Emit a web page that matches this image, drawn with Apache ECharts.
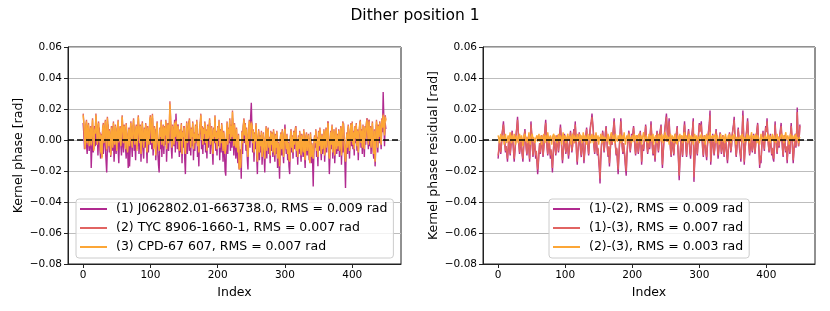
<!DOCTYPE html>
<html><head><meta charset="utf-8">
<script src="https://cdn.jsdelivr.net/npm/echarts@6/dist/echarts.min.js"></script>
<style>html,body{margin:0;padding:0;background:#fff}#c{width:830px;height:311px}</style>
</head><body><div id="c"></div>
<script>
// ---- text ----
const chartTitle = 'Dither position 1';
const leftYName = 'Kernel phase [rad]';
const rightYName = 'Kernel phase residual [rad]';
const xName = 'Index';
const leftNames = ['(1) J062802.01-663738.0, RMS = 0.009 rad', '(2) TYC 8906-1660-1, RMS = 0.007 rad', '(3) CPD-67 607, RMS = 0.007 rad'];
const rightNames = ['(1)-(2), RMS = 0.009 rad', '(1)-(3), RMS = 0.007 rad', '(2)-(3), RMS = 0.003 rad'];
const xTicks = [0, 100, 200, 300, 400];
const colors = ['#b12a90', '#e16462', '#fca636'];

// ---- values, in milliradians (index = position in array) ----
const s1 = [
11,4,-6,2,8,-3,-9,5,1,-7,-2,6,-18,-5,3,-8,2,9,-4,7,
-3,5,-10,1,8,-6,-12,3,-2,6,-9,0,7,-4,-13,-21,-6,10,-1,-8,
4,-11,-3,9,-7,2,-14,-4,5,-9,1,8,-6,-15,0,6,-3,-10,12,-2,
-8,3,7,-5,-12,1,-4,-18,2,-17,-6,9,-2,-11,4,10,-7,-1,-13,5,
8,-4,12,-9,-2,6,-14,0,5,-7,-12,3,-5,9,-1,-15,4,-8,2,7,
-3,10,-6,14,-10,1,-4,7,-13,-2,5,-8,-16,-21,2,-6,8,-11,0,4,
-9,6,-3,11,-14,-1,5,-7,3,18,9,-5,-12,2,8,-4,13,-8,17,6,
-6,10,-2,-11,4,-8,7,-15,1,-5,9,-12,-22,-3,6,-9,2,12,-7,0,
-10,5,-4,8,-13,1,-7,4,-2,9,-11,-5,-17,3,7,12,-6,2,-9,6,
-3,10,-8,1,-12,6,-5,3,11,-9,-1,7,-6,-16,4,-2,13,-7,0,-10,
5,-4,9,-13,2,-8,6,-3,-14,1,-6,-20,-23,-4,7,-9,3,-2,10,-7,
4,-5,14,1,-10,6,-3,-12,2,-8,-15,-4,-19,-11,-6,-25,3,-9,7,13,
-2,8,-7,4,-12,-19,1,10,-5,15,24,6,-8,3,-14,2,-6,9,-11,-22,
-4,5,-13,0,-8,3,-16,-6,2,-10,-21,-3,6,-12,1,7,-9,-2,-15,4,
-7,2,-11,5,-5,-14,1,-9,3,-18,-6,-12,-25,-4,0,-10,4,-7,-15,2,
10,-3,-9,1,-13,-5,-17,-22,-2,6,-8,-1,-12,3,-6,2,9,-11,-4,-16,
-1,-9,4,-6,-14,0,-3,-11,5,-8,-18,-2,3,-10,-5,1,-13,-7,2,-15,
-6,-12,-30,-8,0,-5,4,-11,-2,-17,3,-7,6,-4,-13,1,-9,-3,5,-14,
-2,7,-8,2,12,-5,-22,-10,3,-6,8,-12,-1,4,-15,-4,6,-9,1,-7,
4,-11,-3,7,-16,0,-8,11,-5,-13,-31,-6,2,-9,8,-3,-12,3,9,-4,
11,-6,2,-10,6,-2,9,-7,4,-13,1,8,12,-5,3,-9,7,-1,-11,5,
-3,8,14,2,-6,13,-4,6,-9,1,9,-7,-12,3,-17,-5,10,4,-8,7,
-2,9,3,-6,12,5,31,14,-4,11,7];
const s2 = [
17,12,2,-5,10,13,-3,7,11,-3,3,9,-4,6,14,0,-6,8,5,17,
10,-2,7,12,-2,5,-9,4,-11,8,11,-1,6,13,1,-7,15,9,-3,7,
3,-9,9,4,-4,12,0,-2,10,5,-6,7,13,-2,4,9,-3,6,16,8,
-1,10,5,-5,11,4,-7,2,8,-3,6,12,1,-4,9,14,3,-2,7,10,
-6,5,16,7,-1,10,-8,4,12,2,-4,8,0,11,5,-7,9,3,-2,13,
16,6,-1,17,4,-5,9,2,-9,7,12,0,-3,-6,8,3,13,-2,6,10,
-3,9,4,13,-5,6,11,-1,8,25,15,2,-4,10,5,-2,12,3,13,7,
0,10,4,-6,7,2,11,-8,6,3,9,-3,-8,5,12,-1,7,10,14,4,
-4,8,3,12,-5,5,-1,10,2,13,-3,4,-7,7,11,17,1,9,-2,8,
5,12,-1,7,-6,10,2,6,14,-2,4,9,0,-8,8,3,16,-1,6,-5,
9,2,13,-4,7,-1,11,4,-6,6,1,-8,-5,3,12,-2,8,5,14,0,
10,3,19,7,-3,11,2,-4,8,-2,-7,4,-18,-12,-17,-9,6,-1,9,14,
4,11,-2,8,-5,-10,6,13,1,9,12,10,-1,7,-7,5,0,11,-4,-13,
2,7,-7,3,-3,6,-10,-1,5,-5,-11,1,9,-6,4,8,-4,2,-9,6,
-2,5,-7,7,0,-9,4,-4,6,-11,-1,-6,-16,1,5,-5,7,-2,-10,4,
8,0,-5,4,-8,-1,-11,-13,2,7,-4,3,-7,6,-2,5,9,-6,0,-10,
3,-5,6,-2,-9,4,1,-7,7,-4,-12,2,5,-6,-1,4,-8,-14,5,-10,
-2,-7,-11,-4,3,-1,7,-6,2,-10,6,-3,8,0,-8,4,-5,1,7,-9,
2,8,-4,5,12,-1,-11,-5,6,-2,10,-7,3,7,-9,0,8,-5,4,-3,
7,-6,1,9,-9,4,12,10,-1,-7,-13,-2,5,-4,10,1,-6,6,11,0,
12,-2,6,-5,9,2,11,-3,7,-7,4,10,13,-1,7,-4,10,3,-5,9,
2,11,14,6,-2,13,1,9,-4,5,12,-3,-8,7,-13,0,13,8,-4,10,
3,12,7,-2,14,9,17,11,4,16,13];
const s3 = [
16,11,3,-6,9,12,-2,6,10,-4,2,8,-3,5,13,1,-7,7,4,16,
9,-3,6,11,-1,4,-8,3,-12,7,10,-2,5,12,0,-6,14,8,-4,6,
2,-10,8,3,-5,11,1,-3,9,4,-7,6,12,-1,3,8,-4,5,15,7,
-2,9,4,-6,10,3,-8,1,7,-4,5,11,0,-5,8,13,2,-3,6,9,
-7,4,15,6,-2,9,-9,3,11,1,-5,7,-1,10,4,-8,8,2,-3,12,
15,5,-2,16,3,-6,8,1,-10,6,11,-1,-4,-7,7,2,12,-3,5,9,
-4,8,3,12,-6,5,10,-2,7,23,14,1,-5,9,4,-3,11,2,12,6,
-1,9,3,-7,6,1,10,-9,5,2,8,-4,-9,4,11,-2,6,9,13,3,
-5,7,2,11,-6,4,-2,9,1,12,-4,3,-8,6,10,16,0,8,-3,7,
4,11,-2,6,-7,9,1,5,13,-3,3,8,-1,-9,7,2,15,-2,5,-6,
8,1,12,-5,6,-2,10,3,-7,5,0,-9,-6,2,11,-3,7,4,13,-1,
9,2,18,6,-4,10,1,-5,7,-3,-8,3,-19,-13,-18,-10,5,-2,8,13,
3,10,-3,7,-6,-11,5,12,0,8,11,9,-2,6,-8,4,-1,10,-5,-14,
1,6,-8,2,-4,5,-11,-2,4,-6,-12,0,8,-7,3,7,-5,1,-10,5,
-3,4,-8,6,-1,-10,3,-5,5,-12,-2,-7,-17,0,4,-6,6,-3,-11,3,
7,-1,-6,3,-9,-2,-12,-14,1,6,-5,2,-8,5,-3,4,8,-7,-1,-11,
2,-6,5,-3,-10,3,0,-8,6,-5,-13,1,4,-7,-2,3,-9,-15,4,-11,
-3,-8,-12,-5,2,-2,6,-7,1,-11,5,-4,7,-1,-9,3,-6,0,6,-10,
1,7,-5,4,11,-2,-12,-6,5,-3,9,-8,2,6,-10,-1,7,-6,3,-4,
6,-7,0,8,-10,3,11,9,-2,-8,-14,-3,4,-5,9,0,-7,5,10,-1,
11,-3,5,-6,8,1,10,-4,6,-8,3,9,12,-2,6,-5,9,2,-6,8,
1,10,13,5,-3,12,0,8,-5,4,11,-4,-9,6,-14,-1,12,7,-5,9,
2,11,6,-3,13,8,16,10,3,15,12];
const r12 = [
-12,-7,-1,-5,-9,-3,4,8,12,5,-2,-8,-4,-9,-14,-6,1,-3,-10,-5,
2,6,-1,-7,-14,-8,-2,4,9,15,7,-3,-9,-5,1,-4,-10,-14,-6,3,
7,1,-6,-10,-3,2,-7,-14,-2,12,5,-4,-11,-6,0,-5,-12,-8,-15,-22,
-16,-8,-2,-9,-4,3,-3,-11,-6,1,8,13,4,-5,-10,-4,2,-6,-12,-7,
-13,-21,-11,-3,2,-5,-10,-4,3,-2,-8,-3,5,10,2,-7,-15,-9,-2,4,
-3,-9,-5,1,-6,-12,-7,0,6,-1,-8,-4,3,7,-2,12,3,-9,-16,-8,
-2,5,-1,-7,-11,-4,2,-6,-15,-9,-3,4,8,1,-5,-10,-3,6,10,12,
17,18,6,-4,-9,-2,4,-3,-10,-6,-13,-19,-28,-14,-5,2,6,-1,-8,-3,
5,9,2,-6,-11,-5,-17,-9,-1,4,-3,3,8,14,6,-4,-10,-6,-15,-22,
-12,-3,5,14,6,-4,-9,-2,-7,-12,-18,-23,-11,-4,2,6,-1,-8,-3,4,
1,5,9,2,-5,-10,-4,3,-3,-9,-5,1,6,-2,-16,-9,-3,-7,-1,4,
10,3,-4,-9,-3,2,-6,5,12,4,-5,-10,-3,-8,-14,-6,1,6,-2,-8,
-3,4,7,10,-6,-18,-10,-2,4,9,13,17,8,-1,6,14,3,-6,-11,-4,
2,-5,-10,-3,4,-2,5,9,-4,-14,-26,-15,-5,1,-6,-11,-3,6,12,3,
-5,-11,-4,2,7,-1,-8,-12,-5,3,8,14,-27,-16,-6,1,-4,-10,-3,5,
11,6,9,12,2,-6,-11,-4,3,-3,-9,-13,-5,2,7,11,19,-16,-9,-2,
4,-3,-10,-6,1,7,2,-5,-12,-7,-1,5,-2,-9,-4,3,-6,-11,-5,2,
-4,-10,-15,-8,-1,5,-2,-8,-4,3,7,10,15,4,-5,-11,-6,1,8,2,
-6,-9,-14,-4,7,19,5,-16,-8,-2,4,8,14,5,-4,-10,-5,2,-3,-8,
-2,4,-4,-9,-3,3,7,11,2,-7,-18,-11,-15,-6,1,6,-2,-7,3,9,
6,14,5,-3,-8,-2,4,-5,-10,-6,-12,-14,-1,12,3,-5,-9,-3,2,-5,
3,7,11,2,-6,-11,-4,3,-3,-8,-5,-15,-7,1,-4,-9,4,11,3,-6,
-15,-8,-2,4,-5,3,21,6,-4,2,10];
const r13 = [
-10,-6,-1,-4,-8,-3,4,7,10,4,-2,-7,-4,-8,-12,-5,1,-3,-9,-4,
2,5,-1,-6,-12,-7,-2,4,8,13,6,-3,-8,-4,1,-4,-9,-12,-5,3,
6,1,-5,-9,-3,2,-6,-12,-2,10,4,-4,-10,-5,0,-4,-10,-7,-13,-19,
-14,-7,-2,-8,-4,3,-3,-10,-5,1,7,11,4,-4,-9,-4,2,-5,-10,-6,
-11,-18,-10,-3,2,-4,-9,-4,3,-2,-7,-3,4,8,2,-6,-13,-8,-2,3,
-3,-8,-4,1,-5,-10,-6,0,5,-1,-7,-4,3,6,-2,10,3,-8,-14,-7,
-2,4,-1,-6,-10,-4,2,-5,-13,-8,-3,3,7,1,-4,-9,-3,5,9,10,
15,16,5,-4,-8,-2,3,-3,-9,-5,-11,-17,-25,-12,-4,2,5,-1,-7,-3,
4,8,2,-5,-10,-4,-15,-8,-1,3,-3,3,7,12,5,-4,-9,-5,-13,-19,
-10,-3,4,12,5,-4,-8,-2,-6,-10,-16,-20,-10,-4,2,5,-1,-7,-3,3,
1,4,8,2,-4,-9,-4,3,-3,-8,-4,1,5,-2,-14,-8,-3,-6,-1,3,
9,3,-4,-8,-3,2,-5,4,10,3,-4,-9,-3,-7,-12,-5,1,5,-2,-7,
-3,3,6,9,-5,-16,-9,-2,3,8,11,15,7,-1,5,12,3,-5,-10,-4,
2,-4,-9,-3,3,-2,4,8,-4,-12,-23,-13,-4,1,-5,-10,-3,5,10,3,
-4,-10,-4,2,6,-1,-7,-10,-4,3,7,12,-24,-14,-5,1,-4,-9,-3,4,
10,5,8,10,2,-5,-10,-4,3,-3,-8,-11,-4,2,6,10,16,-14,-8,-2,
3,-3,-9,-5,1,6,2,-4,-10,-6,-1,4,-2,-8,-4,3,-5,-10,-4,2,
-4,-9,-13,-7,-1,4,-2,-7,-4,3,6,9,13,4,-4,-10,-5,1,7,2,
-5,-8,-12,-4,6,16,4,-14,-7,-2,3,7,12,4,-4,-9,-4,2,-3,-7,
-2,3,-4,-8,-3,3,6,10,2,-6,-16,-10,-13,-5,1,5,-2,-6,3,8,
5,12,4,-3,-7,-2,3,-4,-9,-5,-10,-12,-1,10,3,-4,-8,-3,2,-4,
3,6,9,2,-5,-10,-4,3,-3,-7,-4,-13,-6,1,-4,-8,3,9,3,-5,
-13,-7,-2,3,-4,3,18,5,-4,2,9];
const r23 = [
3,1,-2,2,4,-1,0,3,1,-3,2,4,0,-2,1,3,-1,2,5,1,
-2,3,1,-1,4,2,-3,1,3,0,-2,2,4,1,-1,3,0,-4,2,1,
4,-1,2,3,-2,1,5,0,-3,2,1,4,-1,2,3,-2,1,0,3,-1,
2,4,-1,1,3,-3,2,0,4,1,-2,3,1,-1,5,2,-2,1,3,0,
-3,2,1,4,-1,3,0,2,-2,1,4,2,-1,3,1,-3,2,5,0,1,
3,-2,1,2,4,0,-1,3,1,-3,2,4,1,-2,3,0,2,-1,4,1,
-1,2,4,0,3,-2,1,5,2,-1,3,1,-3,2,4,0,1,3,-2,2,
4,1,-2,3,0,2,5,-1,1,3,-3,2,0,4,1,-2,3,1,-1,2,
1,3,-1,2,4,0,-3,2,1,5,2,-1,3,0,-2,4,1,2,-1,3,
0,2,4,-2,1,3,-1,2,5,0,-3,1,3,2,-1,4,0,2,1,-2,
3,1,-1,4,2,0,3,-2,1,2,4,-1,0,3,-3,1,2,5,0,2,
-1,3,1,2,-2,4,0,1,3,-1,2,4,-3,1,0,3,2,-2,1,4,
2,0,3,-1,4,1,-2,3,1,5,2,-1,3,0,2,-3,1,4,2,-1,
3,1,-2,2,4,0,1,-3,3,2,-1,4,1,0,3,-2,2,1,5,-1,
1,3,0,-2,2,4,1,-1,3,0,2,-3,1,4,2,-1,3,0,1,2,
-2,3,1,4,0,2,-1,3,1,-3,2,4,0,1,3,-2,5,1,2,0,
3,-1,2,1,4,-2,0,3,1,2,-3,1,4,0,2,-1,3,1,-2,4,
1,2,-1,3,0,4,2,-2,1,3,0,-1,4,2,1,-3,2,3,0,1,
2,-1,3,1,4,0,-2,2,3,1,-1,4,2,0,3,-2,1,2,5,0,
-1,3,2,0,4,1,-2,3,1,2,-3,1,4,0,2,3,-1,1,3,2,
0,2,4,-1,1,3,-2,2,0,4,1,-1,3,2,-2,1,4,0,2,3,
-1,2,1,4,0,3,-2,1,2,5,0,-1,3,1,-3,2,4,0,1,3,
2,-1,3,1,4,0,2,3,-2,1,2];

// ---- build ----
const FONT = 'DejaVu Sans';
const toPts = a => a.map((v, i) => [i, v / 1000]);
const fmtY = v => v.toFixed(2).replace('-', '\u2212');

function gridAxes(idx, yName) {
  const x = {
    type: 'value', gridIndex: idx, min: -22.5, max: 472.5,
    name: xName, nameLocation: 'middle', nameGap: 19,
    nameTextStyle: { fontFamily: FONT, fontSize: 12.5, color: '#000' },
    axisLine: { show: true, onZero: false, lineStyle: { color: '#222', width: 1 } },
    axisTick: { show: true, inside: false, length: 4, lineStyle: { color: '#222' }, customValues: xTicks },
    axisLabel: { fontFamily: FONT, fontSize: 10.5, color: '#000', margin: 6, customValues: xTicks, formatter: v => String(v) },
    splitLine: { show: false }
  };
  const y = {
    type: 'value', gridIndex: idx, min: -0.08, max: 0.06, interval: 0.02,
    name: yName, nameLocation: 'middle', nameGap: 43,
    nameTextStyle: { fontFamily: FONT, fontSize: 12.5, color: '#000' },
    axisLine: { show: true, onZero: false, lineStyle: { color: '#222', width: 1 } },
    axisTick: { show: true, inside: false, length: 4, lineStyle: { color: '#222' } },
    axisLabel: { fontFamily: FONT, fontSize: 10.5, color: '#000', margin: 6, formatter: fmtY },
    splitLine: { show: true, lineStyle: { color: '#bdbdbd', width: 1 } }
  };
  return [x, y];
}
const [x0, y0] = gridAxes(0, leftYName);
const [x1, y1] = gridAxes(1, rightYName);

function mkSeries(name, data, ci, gi, zero) {
  const s = {
    name, type: 'line', xAxisIndex: gi, yAxisIndex: gi, data: toPts(data),
    symbol: 'none', showSymbol: false, animation: false,
    lineStyle: { color: colors[ci], width: 1.4 }, itemStyle: { color: colors[ci] }
  };
  if (zero) s.markLine = {
    silent: true, symbol: 'none', label: { show: false }, animation: false,
    lineStyle: { color: '#000', type: [6, 3], width: 1.5 }, data: [{ yAxis: 0 }]
  };
  return s;
}

const legendBase = {
  orient: 'vertical', icon: 'rect', itemWidth: 27, itemHeight: 2, itemGap: 5,
  padding: [3, 6, 4, 4], borderColor: '#cccccc', borderWidth: 1, borderRadius: 3,
  backgroundColor: 'rgba(255,255,255,0.8)',
  textStyle: { fontFamily: FONT, fontSize: 12.5, color: '#000', lineHeight: 14, padding: [0, 0, 0, 4] }
};

const option = {
  animation: false,
  title: { text: chartTitle, left: 'center', top: 3, textStyle: { fontFamily: FONT, fontSize: 15.5, fontWeight: 'normal', color: '#000' } },
  grid: [
    { left: 68, top: 47, width: 333, height: 217, show: true, borderColor: '#222', borderWidth: 1, backgroundColor: 'transparent' },
    { left: 483, top: 47, width: 332, height: 217, show: true, borderColor: '#222', borderWidth: 1, backgroundColor: 'transparent' }
  ],
  xAxis: [x0, x1], yAxis: [y0, y1],
  legend: [
    Object.assign({}, legendBase, { left: 76, top: 199, data: leftNames }),
    Object.assign({}, legendBase, { left: 549, top: 199, data: rightNames })
  ],
  series: [
    mkSeries(leftNames[0], s1, 0, 0, false),
    mkSeries(leftNames[1], s2, 1, 0, false),
    mkSeries(leftNames[2], s3, 2, 0, true),
    mkSeries(rightNames[0], r12, 0, 1, false),
    mkSeries(rightNames[1], r13, 1, 1, false),
    mkSeries(rightNames[2], r23, 2, 1, true)
  ]
};
const chart = echarts.init(document.getElementById('c'), null, { renderer: 'canvas' });
chart.setOption(option);
</script></body></html>
